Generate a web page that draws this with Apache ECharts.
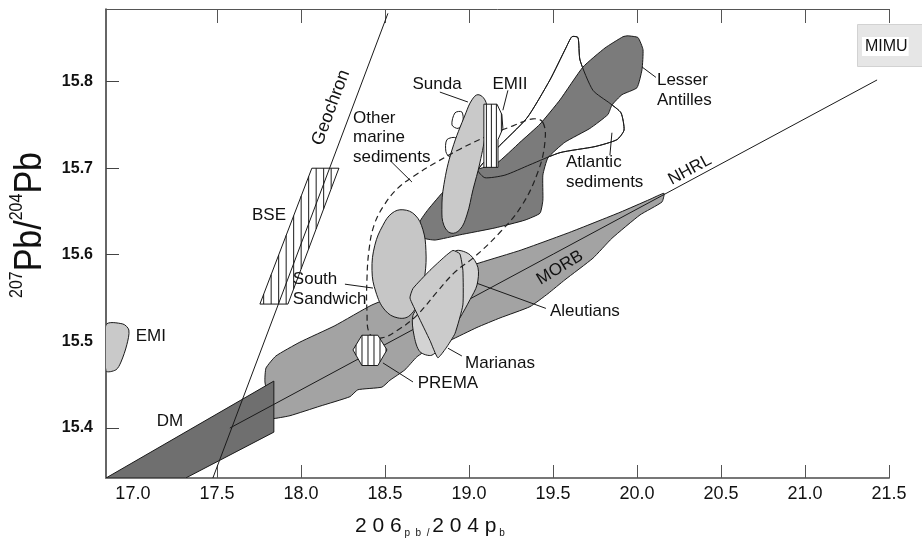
<!DOCTYPE html>
<html>
<head>
<meta charset="utf-8">
<script src="https://cdn.jsdelivr.net/npm/echarts@6/dist/echarts.min.js"></script>
<style>
  html, body { margin: 0; padding: 0; background: #fff; }
  #chart { width: 922px; height: 540px; }
</style>
</head>
<body>
<div id="chart"></div>
<script>
// ---- axes ----
const xRange = [16.84, 21.5];
const yRange = [15.342, 15.884];
const xTickLabels = [17.0, 17.5, 18.0, 18.5, 19.0, 19.5, 20.0, 20.5, 21.0, 21.5];
const xTickMarks = [17.5, 18.0, 18.5, 19.0, 19.5, 20.0, 20.5, 21.0, 21.5];
const yTicks = [15.4, 15.5, 15.6, 15.7, 15.8];

// ---- fields in 206Pb/204Pb – 207Pb/204Pb space ----
const atlanticSediments = [[19.054,15.698],[19.167,15.723],[19.345,15.758],[19.482,15.802],[19.577,15.839],[19.613,15.852],[19.649,15.851],[19.661,15.825],[19.738,15.790],[19.839,15.775],[19.905,15.764],[19.923,15.744],[19.881,15.733],[19.750,15.725],[19.542,15.718],[19.363,15.704],[19.214,15.692],[19.095,15.689]];
const lesserAntilles = [[18.708,15.638],[18.756,15.652],[18.857,15.675],[18.946,15.691],[19.036,15.698],[19.167,15.706],[19.304,15.730],[19.423,15.751],[19.542,15.779],[19.679,15.817],[19.810,15.839],[19.917,15.852],[19.946,15.853],[20.006,15.851],[20.036,15.837],[20.030,15.814],[20.000,15.793],[19.911,15.785],[19.851,15.773],[19.827,15.762],[19.720,15.746],[19.571,15.730],[19.470,15.712],[19.440,15.692],[19.440,15.663],[19.423,15.648],[19.333,15.640],[19.155,15.631],[18.946,15.623],[18.798,15.617],[18.720,15.620]];
const morb = [[17.786,15.453],[17.792,15.469],[17.851,15.483],[17.994,15.499],[18.202,15.518],[18.423,15.542],[18.649,15.559],[18.857,15.573],[19.006,15.587],[19.304,15.605],[19.601,15.626],[19.899,15.649],[20.077,15.664],[20.161,15.671],[20.149,15.661],[20.018,15.646],[19.851,15.619],[19.738,15.596],[19.571,15.571],[19.470,15.555],[19.363,15.540],[19.185,15.527],[19.048,15.516],[18.887,15.501],[18.768,15.492],[18.690,15.482],[18.619,15.467],[18.530,15.455],[18.482,15.447],[18.339,15.444],[18.292,15.436],[18.113,15.425],[17.935,15.414],[17.851,15.411],[17.827,15.411]];
const dm = [[16.84,15.342],[17.839,15.454],[17.839,15.395],[17.315,15.342]];
const emi = [[16.84,15.519],[16.940,15.520],[16.976,15.513],[16.964,15.496],[16.929,15.476],[16.899,15.467],[16.84,15.466]];
const southSandwich = [[18.607,15.652],[18.679,15.646],[18.726,15.629],[18.744,15.605],[18.738,15.577],[18.708,15.550],[18.649,15.530],[18.577,15.527],[18.500,15.536],[18.446,15.557],[18.423,15.582],[18.440,15.611],[18.488,15.634],[18.542,15.648]];
const aleutians = [[18.929,15.605],[19.006,15.600],[19.054,15.585],[19.048,15.565],[19.006,15.548],[18.946,15.527],[18.857,15.501],[18.780,15.484],[18.708,15.488],[18.673,15.507],[18.667,15.530],[18.738,15.548],[18.827,15.577],[18.887,15.596]];
const marianas = [[18.905,15.605],[18.946,15.601],[18.964,15.582],[18.964,15.542],[18.917,15.509],[18.863,15.492],[18.815,15.481],[18.768,15.501],[18.696,15.530],[18.649,15.550],[18.667,15.561],[18.768,15.582],[18.857,15.598]];
const sunda = [[19.054,15.785],[19.095,15.779],[19.107,15.767],[19.101,15.744],[19.065,15.706],[19.024,15.675],[18.988,15.646],[18.946,15.629],[18.893,15.625],[18.851,15.634],[18.839,15.652],[18.851,15.681],[18.899,15.721],[18.982,15.764],[19.018,15.779]];
const sedimentPatchA = [[18.917,15.764],[18.958,15.765],[18.964,15.753],[18.935,15.746],[18.899,15.750]];
const sedimentPatchB = [[18.869,15.733],[18.923,15.735],[18.923,15.721],[18.887,15.713],[18.863,15.719]];
const otherMarineSediments = [[19.440,15.753],[19.452,15.730],[19.411,15.696],[19.315,15.657],[19.185,15.626],[19.036,15.598],[18.917,15.580],[18.810,15.557],[18.690,15.530],[18.577,15.513],[18.482,15.504],[18.411,15.508],[18.393,15.536],[18.393,15.571],[18.405,15.605],[18.435,15.634],[18.494,15.657],[18.577,15.677],[18.673,15.691],[18.798,15.706],[18.946,15.722],[19.107,15.737],[19.262,15.749],[19.381,15.757]];
const bse = [[18.065,15.700],[18.226,15.700],[17.923,15.543],[17.756,15.543]];
const emii = [[19.089,15.774],[19.167,15.774],[19.196,15.762],[19.202,15.746],[19.173,15.733],[19.173,15.701],[19.089,15.701]];
const prema = [[18.310,15.490],[18.363,15.507],[18.458,15.507],[18.512,15.490],[18.458,15.472],[18.363,15.472]];

// ---- reference lines ----
const geochron = [[17.476,15.342],[18.518,15.879]];
const nhrl = [[17.577,15.3997],[21.429,15.802]];

// ---- annotation leaders and labels ----
const leaders = [
  [[18.827,15.788],[18.994,15.7765]],
  [[19.232,15.790],[19.202,15.767]],
  [[20.113,15.805],[20.030,15.817]],
  [[19.839,15.715],[19.851,15.741]],
  [[18.530,15.709],[18.661,15.684]],
  [[18.262,15.566],[18.429,15.5615]],
  [[18.488,15.475],[18.667,15.453]],
  [[18.875,15.492],[18.958,15.483]],
  [[19.048,15.567],[19.458,15.538]]
];
const labels = [
  { text: 'Geochron', at: [18.179,15.770], rotate: 69.4, size: 18 },
  { text: 'NHRL', at: [20.315,15.698], rotate: 28.3 },
  { text: 'MORB', at: [19.542,15.585], rotate: 31 },
  { text: 'Sunda', at: [18.810,15.797] },
  { text: 'EMII', at: [19.244,15.797] },
  { text: 'Lesser\nAntilles', at: [20.119,15.790], align: 'left' },
  { text: 'Atlantic\nsediments', at: [19.577,15.695], align: 'left' },
  { text: 'Other\nmarine\nsediments', at: [18.310,15.7355], align: 'left' },
  { text: 'BSE', at: [17.810,15.645] },
  { text: 'South\nSandwich', at: [17.952,15.560], align: 'left' },
  { text: 'EMI', at: [17.107,15.506] },
  { text: 'DM', at: [17.220,15.408] },
  { text: 'PREMA', at: [18.875,15.451] },
  { text: 'Marianas', at: [19.185,15.475] },
  { text: 'Aleutians', at: [19.690,15.535] }
];

const FONT = "'Liberation Sans', Arial, Helvetica, sans-serif";
const INK = '#1a1a1a';
let zOrder = 2;

function field(pts, fill, opt) {
  opt = opt || {};
  return {
    type: 'custom', coordinateSystem: 'cartesian2d', clip: true, silent: true,
    z: zOrder++, data: [pts[0]],
    renderItem: (params, api) => ({
      type: 'polygon',
      shape: { points: pts.map(p => api.coord(p)), smooth: opt.smooth || 0 },
      style: {
        fill: fill,
        stroke: opt.stroke === undefined ? INK : opt.stroke,
        lineWidth: opt.lineWidth || 1,
        lineDash: opt.dash || null
      }
    })
  };
}

// vertical hatching clipped to the polygon by scanline intersection
function hatchLines(px, step) {
  const xs = px.map(p => p[0]);
  const minX = Math.min.apply(null, xs), maxX = Math.max.apply(null, xs);
  const out = [];
  for (let x = minX + step / 2; x < maxX; x += step) {
    const ys = [];
    for (let i = 0; i < px.length; i++) {
      const a = px[i], b = px[(i + 1) % px.length];
      if ((a[0] <= x && b[0] > x) || (b[0] <= x && a[0] > x)) {
        const t = (x - a[0]) / (b[0] - a[0]);
        ys.push(a[1] + t * (b[1] - a[1]));
      }
    }
    ys.sort((m, n) => m - n);
    for (let k = 0; k + 1 < ys.length; k += 2) {
      out.push({ type: 'line', shape: { x1: x, y1: ys[k], x2: x, y2: ys[k + 1] },
                 style: { stroke: INK, lineWidth: 1 } });
    }
  }
  return out;
}

function hatched(pts, step) {
  return {
    type: 'custom', coordinateSystem: 'cartesian2d', clip: true, silent: true,
    z: zOrder++, data: [pts[0]],
    renderItem: (params, api) => {
      const px = pts.map(p => api.coord(p));
      return {
        type: 'group',
        children: [{ type: 'polygon', shape: { points: px }, style: { fill: '#fff', stroke: 'none' } }]
          .concat(hatchLines(px, step))
          .concat([{ type: 'polygon', shape: { points: px }, style: { fill: 'none', stroke: INK, lineWidth: 1 } }])
      };
    }
  };
}

function refLine(pts) {
  return {
    type: 'custom', coordinateSystem: 'cartesian2d', clip: true, silent: true,
    z: zOrder++, data: [pts[0]],
    renderItem: (params, api) => ({
      type: 'polyline',
      shape: { points: pts.map(p => api.coord(p)) },
      style: { stroke: INK, lineWidth: 1, fill: 'none' }
    })
  };
}

const series = [
  field(atlanticSediments, '#ffffff', { smooth: 0.2 }),
  field(lesserAntilles, '#7b7b7b', { smooth: 0.15 }),
  field(atlanticSediments, 'none', { smooth: 0.2 }),
  field(morb, '#a3a3a3', { smooth: 0.15 }),
  field(dm, '#6f6f6f'),
  refLine(nhrl),
  field(emi, '#c9c9c9', { smooth: 0.3 }),
  field(sedimentPatchA, '#ffffff', { smooth: 0.3 }),
  field(sedimentPatchB, '#ffffff', { smooth: 0.3 }),
  field(southSandwich, '#c6c6c6', { smooth: 0.4 }),
  field(aleutians, '#d3d3d3', { smooth: 0.3 }),
  field(marianas, '#cbcbcb', { smooth: 0.15 }),
  field(sunda, '#c9c9c9', { smooth: 0.4 }),
  field(otherMarineSediments, 'none', { smooth: 0.4, dash: [6, 4], lineWidth: 1.2, stroke: '#222' }),
  hatched(bse, 7.5),
  hatched(emii, 5),
  hatched(prema, 6),
  refLine(geochron),
  {
    type: 'custom', coordinateSystem: 'cartesian2d', silent: true, z: zOrder++,
    data: [leaders[0][0]],
    renderItem: (params, api) => ({
      type: 'group',
      children: leaders.map(l => {
        const a = api.coord(l[0]), b = api.coord(l[1]);
        return { type: 'line', shape: { x1: a[0], y1: a[1], x2: b[0], y2: b[1] },
                 style: { stroke: INK, lineWidth: 1 } };
      })
    })
  },
  {
    type: 'custom', coordinateSystem: 'cartesian2d', silent: true, z: zOrder++,
    data: labels.map(l => l.at),
    renderItem: (params, api) => {
      const l = labels[params.dataIndex];
      const p = api.coord(l.at);
      return {
        type: 'text', x: p[0], y: p[1],
        rotation: (l.rotate || 0) * Math.PI / 180,
        style: {
          text: l.text, fill: '#111', fontFamily: FONT, fontSize: l.size || 17,
          align: l.align || 'center', verticalAlign: 'middle', lineHeight: 19.5
        }
      };
    }
  }
];

const chart = echarts.init(document.getElementById('chart'), null, { renderer: 'canvas' });
chart.setOption({
  animation: false,
  backgroundColor: '#ffffff',
  title: {
    text: '{w|MIMU}', left: 857, top: 24,
    padding: [13, 20, 11, 5],
    backgroundColor: '#e6e6e6', borderColor: '#d2d2d2', borderWidth: 1,
    textStyle: {
      fontWeight: 'normal',
      rich: { w: { backgroundColor: '#fff', padding: [2, 1, 1, 3], fontSize: 16, fontWeight: 'normal', color: '#111', fontFamily: FONT } }
    }
  },
  grid: { left: 106, right: 33, top: 9, bottom: 62 },
  xAxis: [
    {
      type: 'value', position: 'bottom', min: xRange[0], max: xRange[1],
      axisLine: { show: true, lineStyle: { color: '#777', width: 2 } },
      axisTick: { show: true, inside: true, length: 13, customValues: xTickMarks, lineStyle: { color: '#555', width: 1 } },
      axisLabel: { customValues: xTickLabels, formatter: v => v.toFixed(1), fontSize: 18, color: '#111', fontFamily: FONT, margin: 7 },
      splitLine: { show: false }
    },
    {
      type: 'value', position: 'top', min: xRange[0], max: xRange[1],
      axisLine: { show: true, lineStyle: { color: '#555', width: 1 } },
      axisTick: { show: true, inside: true, length: 14, customValues: xTickMarks, lineStyle: { color: '#555', width: 1 } },
      axisLabel: { show: false },
      splitLine: { show: false }
    }
  ],
  yAxis: {
    type: 'value', min: yRange[0], max: yRange[1],
    axisLine: { show: true, lineStyle: { color: '#333', width: 1.5 } },
    axisTick: { show: true, inside: true, length: 13, customValues: yTicks, lineStyle: { color: '#444', width: 1 } },
    axisLabel: { customValues: yTicks, formatter: v => v.toFixed(1), fontSize: 16, fontWeight: 'bold', color: '#111', fontFamily: FONT, margin: 13 },
    splitLine: { show: false }
  },
  graphic: [
    {
      type: 'text', x: 30, y: 225, rotation: Math.PI / 2, scaleY: 1.15,
      style: {
        text: '{s|207}{b|Pb/}{s|204}{b|Pb}', align: 'center', verticalAlign: 'middle', fill: '#111',
        rich: {
          s: { fontSize: 16, fontFamily: FONT, verticalAlign: 'top', lineHeight: 22, fill: '#111' },
          b: { fontSize: 34, fontFamily: FONT, lineHeight: 38, fill: '#111' }
        }
      }
    },
    {
      type: 'text', x: 355, y: 526,
      style: {
        text: '{b|2 0 6}{s| p  b  / }{b|2 0 4 p}{s| b}', align: 'left', verticalAlign: 'middle', fill: '#111',
        rich: {
          b: { fontSize: 21, fontFamily: FONT, lineHeight: 24, fill: '#111' },
          s: { fontSize: 10, fontFamily: FONT, verticalAlign: 'bottom', lineHeight: 12, fill: '#111' }
        }
      }
    }
  ],
  series: series
});
</script>
</body>
</html>
